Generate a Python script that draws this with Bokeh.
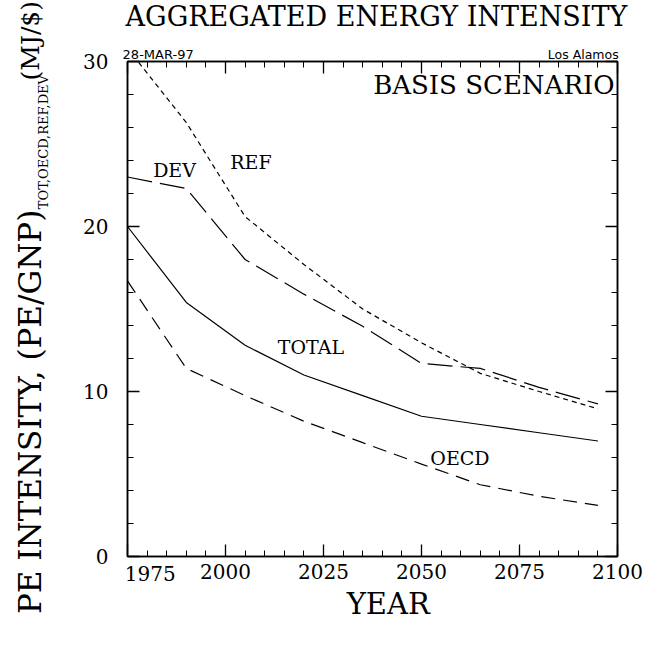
import math
from bokeh.plotting import figure
from bokeh.models import Range1d, FixedTicker, LinearAxis, Label
from bokeh.embed import file_html
from bokeh.resources import INLINE

# ---- data ----
years = [1975, 1990, 2005, 2020, 2035, 2050, 2065, 2080, 2095]
total = [20.0, 15.4, 12.8, 11.0, 9.75, 8.5, 8.0, 7.5, 7.0]
oecd = [16.7, 11.4, 9.75, 8.2, 6.9, 5.6, 4.35, 3.65, 3.1]
ref = [30.8, 26.3, 20.6, 17.7, 15.0, 12.95, 11.1, 10.0, 8.95]
dev = [23.0, 22.3, 18.0, 15.9, 13.95, 11.7, 11.4, 10.25, 9.25]

x_major = [1975, 2000, 2025, 2050, 2075, 2100]
x_minor = list(range(1975, 2101, 5))
y_major = [0, 10, 20, 30]
y_minor = list(range(0, 31, 2))

title_text = "AGGREGATED ENERGY INTENSITY"
x_label = "YEAR"
y_label_main = "PE INTENSITY, (PE/GNP)"
y_label_sub = "TOT,OECD,REF,DEV"
y_label_tail = "(MJ/$)"
scenario = "BASIS SCENARIO"
date_text = "28-MAR-97"
site_text = "Los Alamos"

SERIF = "DejaVu Serif"
SANS = "DejaVu Sans"

p = figure(width=644, height=635, output_backend="svg", toolbar_location=None,
           title=None, x_range=Range1d(1975, 2100), y_range=Range1d(0, 30),
           x_axis_location=None, y_axis_location=None,
           min_border_left=119, min_border_right=27, min_border_top=57,
           min_border_bottom=79)
p.xgrid.visible = False
p.ygrid.visible = False
p.outline_line_color = "black"
p.outline_line_width = 1.5
p.background_fill_color = "white"
p.border_fill_color = "white"


def style_axis(ax, show_labels, size="20px"):
    ax.major_tick_in = 12
    ax.major_tick_out = 0
    ax.minor_tick_in = 6
    ax.minor_tick_out = 0
    ax.axis_line_color = "black"
    ax.axis_line_width = 1.5
    ax.major_tick_line_color = "black"
    ax.minor_tick_line_color = "black"
    ax.major_tick_line_width = 1.3
    ax.minor_tick_line_width = 1.0
    if show_labels:
        ax.major_label_text_font = SERIF
        ax.major_label_text_font_size = size
        ax.major_label_text_color = "black"
    else:
        ax.major_label_text_font_size = "1px"
        ax.major_label_text_color = None
        ax.major_label_standoff = 0


bottom = LinearAxis(ticker=FixedTicker(ticks=x_major, minor_ticks=x_minor),
                    major_label_overrides={1975: ""})
style_axis(bottom, True)
bottom.major_label_standoff = 7
p.add_layout(bottom, "below")

top = LinearAxis(ticker=FixedTicker(ticks=x_major, minor_ticks=x_minor))
style_axis(top, False)
p.add_layout(top, "above")

left = LinearAxis(ticker=FixedTicker(ticks=y_major, minor_ticks=y_minor))
style_axis(left, True)
left.major_label_standoff = 19
p.add_layout(left, "left")

right = LinearAxis(ticker=FixedTicker(ticks=y_major, minor_ticks=y_minor))
style_axis(right, False)
p.add_layout(right, "right")

# ---- series ----
p.line(years, total, line_color="black", line_width=1.2)
p.line(years, oecd, line_color="black", line_width=1.2, line_dash="14 8")
p.line(years, ref, line_color="black", line_width=1.2, line_dash="5 4")
p.line(years, dev, line_color="black", line_width=1.2, line_dash="25 8")


def lab(text, x, y, size, font=SERIF, align="left", baseline="alphabetic",
        angle=0.0, place=None):
    lbl = Label(x=x, y=y, text=text, text_font=font, text_font_size=size,
                text_align=align, text_baseline=baseline, angle=angle,
                text_color="black")
    if place is None:
        p.add_layout(lbl)
    else:
        p.add_layout(lbl, place)


# curve names (inside the frame)
lab("DEV", 1987.0, 23.4, "19px", align="center")
lab("REF", 2006.5, 23.9, "19px", align="center")
lab("TOTAL", 2021.8, 12.7, "19px", align="center")
lab("OECD", 2059.8, 6.0, "19px", align="center")
lab(scenario, 2099.25, 28.55, "26px", align="right")

# header texts (outside the frame, in side panels)
lab(title_text, 2038.5, 32.7, "27px", align="center", place="above")
lab(date_text, 1973.75, 30.45, "13px", font=SANS, align="left", place="above")
lab(site_text, 2100.3, 30.45, "12.5px", font=SANS, align="right", place="above")

# x axis: 1975 label and axis title
lab("1975", 1980.8, -0.55, "20px", align="center", baseline="top", place="below")
lab(x_label, 2041.5, -2.88, "29px", align="center", place="below")

# y axis title (rotated, with subscript)
lab(y_label_main, 1950.25, -3.49, "31px", align="left", baseline="alphabetic",
    angle=math.pi / 2, place="left")
lab(y_label_sub, 1953.65, 21.05, "13px", align="left", baseline="alphabetic",
    angle=math.pi / 2, place="left")
lab(y_label_tail, 1950.25, 28.85, "25px", align="left", baseline="alphabetic",
    angle=math.pi / 2, place="left")

open("out.html", "w").write(file_html(p, INLINE))
